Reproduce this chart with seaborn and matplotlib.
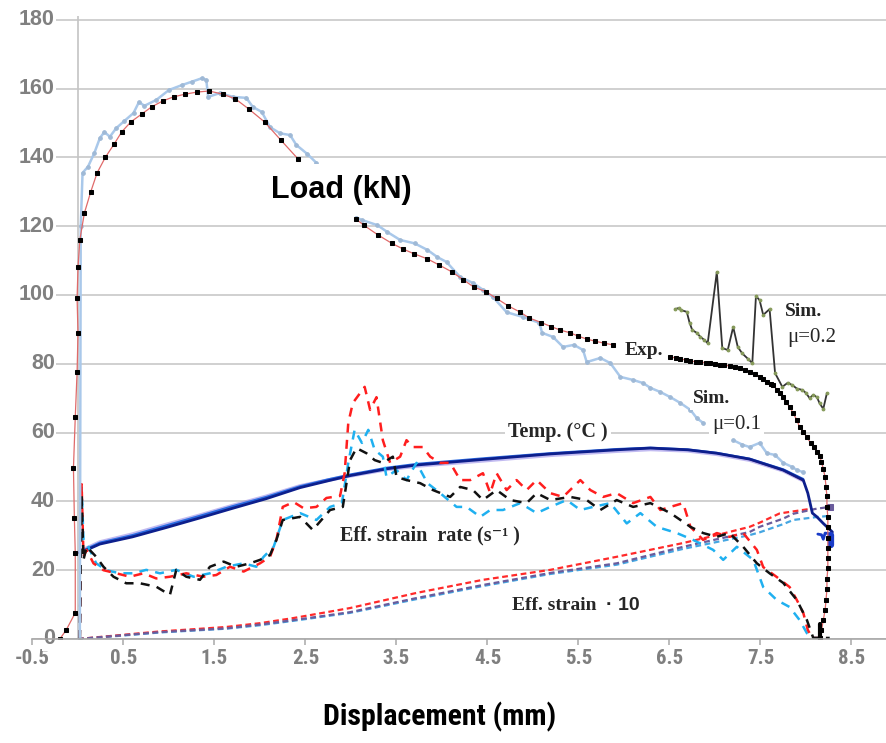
import matplotlib
matplotlib.use("Agg")
import matplotlib.pyplot as plt
import numpy as np
import pandas as pd
import seaborn as sns
from matplotlib import font_manager
from matplotlib.font_manager import FontProperties

# ---------------- data (displacement in mm) ----------------
# Experimental load (kN), three visible stretches
exp_x_a = [-0.45, -0.20, -0.13, -0.03, -0.03, -0.04, -0.05, -0.03, -0.01, 0.00, -0.01, 0.00, 0.02, 0.07,
           0.14, 0.21, 0.30, 0.40, 0.48, 0.58, 0.70, 0.81, 0.93, 1.05, 1.18, 1.31, 1.44, 1.59, 1.73, 1.88,
           2.05, 2.23, 2.42]
exp_y_a = [0.0, 0.0, 2.6, 7.6, 25.0, 35.2, 49.7, 64.5, 77.6, 89.0, 99.0, 108.0, 116.0, 123.8,
           130.0, 135.5, 140.0, 144.0, 147.4, 150.3, 152.6, 154.7, 156.4, 157.6, 158.4, 159.0, 159.3, 158.4,
           157.0, 154.0, 150.3, 145.0, 139.5]
exp_x_b = [3.06, 3.14, 3.30, 3.45, 3.57, 3.69, 3.84, 3.97, 4.11, 4.23, 4.35, 4.48, 4.60, 4.73, 4.86, 4.96,
           5.09, 5.20, 5.30, 5.41, 5.50, 5.59, 5.68, 5.78, 5.88]
exp_y_b = [122.0, 120.3, 117.4, 115.0, 113.4, 112.0, 110.5, 108.7, 106.7, 104.5, 102.3, 101.0, 99.0, 96.8,
           95.0, 93.3, 92.0, 90.8, 89.8, 89.0, 88.0, 87.2, 86.6, 86.0, 85.5]
exp_x_c = [6.51, 6.57, 6.62, 6.68, 6.73, 6.79, 6.84, 6.90, 6.95, 7.00, 7.05, 7.10, 7.16, 7.22, 7.27, 7.33,
           7.38, 7.44, 7.49, 7.53, 7.57, 7.61, 7.64, 7.68, 7.71, 7.75, 7.78, 7.82, 7.86, 7.90, 7.93, 7.97,
           8.01, 8.05, 8.09, 8.12, 8.15, 8.17, 8.19, 8.21, 8.22, 8.23, 8.23, 8.24, 8.24, 8.24, 8.24, 8.24,
           8.24, 8.23, 8.23, 8.22, 8.21, 8.19, 8.17, 8.15]
exp_y_c = [82.0, 81.7, 81.4, 81.1, 80.8, 80.6, 80.5, 80.3, 80.2, 80.0, 79.7, 79.6, 79.4, 79.1, 78.8, 78.3,
           77.6, 77.0, 76.2, 75.5, 74.7, 74.2, 73.8, 72.5, 71.5, 70.3, 68.8, 67.5, 65.6, 63.6, 61.6, 60.2,
           58.7, 57.0, 55.8, 54.5, 53.2, 51.5, 49.5, 47.0, 44.2, 41.5, 38.5, 35.5, 32.5, 29.5, 26.5, 23.5,
           20.5, 17.5, 14.5, 11.3, 8.5, 5.5, 2.5, 0.4]

# Simulated load, friction 0.1 (kN)
sim1_x_a = [0.02, 0.03, 0.05, 0.11, 0.18, 0.24, 0.29, 0.35, 0.42, 0.51, 0.61, 0.67, 0.73, 0.86, 1.00, 1.14,
            1.25, 1.36, 1.41, 1.43, 1.56, 1.70, 1.85, 1.92, 2.02, 2.11, 2.22, 2.33, 2.40, 2.52, 2.62]
sim1_y_a = [0.0, 120.0, 135.5, 137.3, 141.3, 145.6, 147.4, 146.0, 148.5, 150.6, 152.9, 156.1, 155.0, 156.7,
            159.6, 161.0, 162.0, 163.0, 162.5, 157.6, 158.7, 157.6, 157.3, 154.7, 153.2, 148.8, 147.0,
            146.5, 143.6, 141.0, 138.4]
sim1_x_b = [3.06, 3.12, 3.29, 3.40, 3.54, 3.70, 3.84, 3.95, 4.05, 4.20, 4.34, 4.45, 4.56, 4.71, 4.89, 5.07,
            5.10, 5.22, 5.33, 5.45, 5.55, 5.59, 5.74, 5.85, 5.96, 6.10, 6.21, 6.29, 6.40, 6.51, 6.62, 6.73,
            6.80, 6.87]
sim1_y_b = [122.5, 121.8, 120.3, 118.3, 116.0, 115.0, 113.1, 111.0, 109.6, 105.2, 103.5, 101.5, 99.4, 95.0,
            93.6, 91.9, 89.0, 87.8, 84.9, 85.5, 84.0, 80.5, 81.7, 80.2, 76.2, 75.3, 74.4, 73.0, 71.8, 70.3,
            68.6, 66.6, 64.2, 62.8]
sim1_x_c = [7.20, 7.30, 7.38, 7.49, 7.57, 7.66, 7.75, 7.85, 7.90, 7.97]
sim1_y_c = [57.8, 56.5, 55.8, 57.0, 54.0, 53.5, 51.2, 50.0, 49.1, 48.5]

# Simulated load, friction 0.2 (kN)
sim2_x = [6.56, 6.60, 6.63, 6.69, 6.72, 6.75, 6.80, 6.84, 6.88, 6.92, 7.02, 7.08, 7.14, 7.20, 7.25, 7.30,
          7.36, 7.41, 7.45, 7.49, 7.53, 7.60, 7.66, 7.74, 7.80, 7.85, 7.90, 7.96, 8.00, 8.04, 8.08, 8.12,
          8.15, 8.19, 8.23]
sim2_y = [95.9, 96.2, 95.6, 95.1, 92.0, 89.8, 89.0, 87.8, 87.0, 86.0, 106.7, 84.6, 84.0, 90.7, 84.9, 83.0,
          81.5, 80.2, 99.7, 98.5, 94.2, 95.9, 77.3, 73.3, 74.5, 73.8, 72.8, 72.4, 71.5, 70.0, 71.0, 70.3,
          68.5, 66.9, 71.5]

# Temperature (deg C)
temp_x = [0.02, 0.24, 0.60, 0.97, 1.34, 1.70, 2.07, 2.44, 2.75, 2.99, 3.40, 3.73, 4.45, 5.19, 5.92, 6.29,
          6.70, 7.02, 7.38, 7.75, 7.97, 8.02, 8.07, 8.12, 8.19, 8.29]
temp_navy = [25.0, 27.6, 29.7, 32.4, 35.2, 38.0, 40.8, 44.0, 46.0, 47.5, 49.5, 50.6, 52.2, 53.8, 55.0, 55.5,
             55.0, 54.0, 52.3, 49.1, 46.2, 42.4, 36.6, 35.5, 33.6, 31.1]
temp_x2 = [0.02, 0.24, 0.60, 0.97, 1.34, 1.70, 2.07, 2.44, 2.75, 2.99, 3.40, 3.73, 4.45, 5.19, 5.92, 6.29,
           6.70, 7.02, 7.38, 7.75, 7.97]
temp_blue = [25.3, 28.0, 30.2, 33.0, 35.8, 38.6, 41.3, 44.4, 46.4, 47.8, 49.8, 50.9, 52.5, 54.0, 55.2, 55.6,
             55.1, 54.1, 52.4, 49.3, 46.5]
temp_red = [25.0, 27.7, 29.9, 32.8, 35.6, 38.3, 41.0, 44.2, 46.2, 47.6, 49.6, 50.7, 52.3, 53.9, 55.1, 55.5,
            55.0, 54.0, 52.2, 49.0, 46.0]
temp_purple = [25.5, 28.2, 30.5, 33.3, 36.0, 38.8, 41.5, 44.5, 46.2, 47.4, 49.3, 50.3, 51.8, 53.4, 54.6,
               55.1, 54.7, 53.7, 52.0, 48.9, 46.0]
temp_tail_x = [8.13, 8.17, 8.19, 8.21, 8.28]
temp_tail_y = [30.5, 30.3, 29.0, 30.8, 30.5]

# Effective strain rate (1/s)
rate_red_x = [0.02, 0.04, 0.06, 0.095, 0.17, 0.28, 0.42, 0.57, 0.72, 0.86, 1.01, 1.19, 1.38, 1.52, 1.67,
              1.82, 2.00, 2.11, 2.18, 2.25, 2.37, 2.48, 2.62, 2.73, 2.88, 2.93, 2.97, 3.02, 3.15, 3.21,
              3.28, 3.35, 3.43, 3.54, 3.61, 3.68, 3.79, 3.87, 3.98, 4.09, 4.20, 4.31, 4.45, 4.53, 4.60,
              4.71, 4.82, 4.93, 5.04, 5.19, 5.33, 5.52, 5.63, 5.77, 5.92, 6.10, 6.29, 6.40, 6.51, 6.65,
              6.73, 6.87, 7.02, 7.16, 7.31, 7.46, 7.53, 7.68, 7.82, 7.90, 7.97, 8.02, 8.07, 8.26]
rate_red = [0.0, 45.0, 24.0, 25.9, 22.0, 20.0, 19.1, 18.1, 19.1, 17.6, 18.1, 19.1, 18.1, 18.6, 21.0,
            19.6, 22.0, 23.9, 28.8, 38.4, 39.8, 38.0, 38.4, 41.0, 41.6, 48.2, 62.8, 68.6, 73.3, 66.6,
            70.3, 57.8, 51.2, 53.0, 57.8, 55.8, 55.8, 53.0, 51.2, 51.2, 46.2, 46.2, 48.2, 42.4, 48.2,
            43.3, 46.2, 43.3, 46.2, 42.4, 41.3, 46.2, 43.3, 41.3, 42.4, 39.5, 41.3, 37.5, 38.4, 39.5,
            32.6, 28.8, 30.8, 29.7, 30.8, 25.9, 20.9, 18.0, 15.1, 11.3, 7.6, 2.6, 0.3, 0.3]
rate_cyan_x = [0.02, 0.04, 0.06, 0.095, 0.20, 0.31, 0.46, 0.61, 0.75, 0.90, 1.08, 1.27, 1.45, 1.63, 1.82,
               1.96, 2.04, 2.15, 2.25, 2.44, 2.62, 2.77, 2.90, 2.97, 3.04, 3.12, 3.19, 3.26, 3.35, 3.39,
               3.50, 3.61, 3.72, 3.84, 3.98, 4.16, 4.27, 4.42, 4.53, 4.67, 4.86, 5.04, 5.19, 5.37, 5.52,
               5.66, 5.85, 6.03, 6.18, 6.36, 6.58, 6.76, 6.98, 7.09, 7.24, 7.42, 7.53, 7.68, 7.82, 7.93,
               8.01, 8.07, 8.26]
rate_cyan = [0.0, 44.0, 29.0, 27.8, 22.0, 20.0, 19.1, 19.1, 20.1, 19.1, 20.1, 18.1, 19.1, 21.0, 22.0,
             21.0, 23.9, 26.8, 34.6, 36.6, 34.6, 38.4, 39.5, 51.2, 60.8, 57.0, 60.8, 55.0, 53.0, 47.1,
             49.1, 46.2, 51.2, 45.3, 42.4, 38.4, 38.4, 35.5, 37.5, 37.5, 39.5, 36.6, 38.4, 40.4, 37.5,
             38.4, 39.5, 33.6, 36.6, 32.6, 30.8, 28.8, 25.9, 23.0, 26.8, 23.0, 15.1, 11.3, 9.3, 5.5,
             1.7, 0.3, 0.3]
rate_black_x = [0.02, 0.04, 0.06, 0.095, 0.20, 0.28, 0.39, 0.53, 0.68, 0.86, 1.01, 1.08, 1.19, 1.34, 1.45,
                1.60, 1.74, 1.89, 2.00, 2.11, 2.18, 2.25, 2.44, 2.58, 2.77, 2.91, 2.99, 3.06, 3.17, 3.26,
                3.35, 3.46, 3.50, 3.61, 3.76, 3.90, 4.09, 4.20, 4.34, 4.45, 4.60, 4.75, 4.93, 5.04, 5.19,
                5.41, 5.59, 5.74, 5.92, 6.10, 6.29, 6.51, 6.73, 6.87, 7.02, 7.16, 7.31, 7.46, 7.60, 7.75,
                7.90, 8.01, 8.08, 8.26]
rate_black = [0.0, 42.0, 23.0, 26.8, 23.9, 21.0, 18.1, 16.2, 16.2, 15.2, 12.8, 20.1, 18.1, 17.2, 21.0,
              22.5, 21.0, 22.0, 23.0, 24.4, 28.8, 34.6, 35.5, 31.7, 37.5, 38.4, 52.0, 55.5, 54.0, 52.0,
              51.2, 53.0, 47.1, 46.2, 45.3, 43.3, 41.3, 44.2, 43.3, 40.4, 43.3, 40.4, 39.5, 42.4, 40.4,
              41.3, 40.4, 37.5, 40.4, 38.4, 39.5, 36.6, 32.6, 30.8, 29.7, 30.8, 26.8, 22.0, 19.1, 16.3,
              11.3, 5.5, 0.3, 0.3]

# Effective strain x 10
strain_x = [0.00, 0.45, 0.90, 1.30, 1.63, 2.00, 2.37, 2.99, 3.72, 4.45, 5.19, 5.92, 6.65, 7.02, 7.38, 7.49,
            7.75, 7.86, 8.10, 8.26]
strain_purple = [0.0, 1.0, 2.0, 2.6, 3.1, 4.2, 5.5, 7.8, 11.9, 15.7, 19.2, 22.0, 26.8, 29.0, 31.1, 32.6,
                 35.0, 36.4, 37.8, 38.4]
strain_cyan = [0.0, 0.9, 1.9, 2.5, 3.0, 4.0, 5.3, 7.6, 11.6, 15.4, 18.9, 21.6, 26.2, 28.2, 30.2, 31.0,
               33.4, 34.6, 35.4, 35.8]
strain_red_x = [0.00, 0.45, 0.90, 1.30, 1.63, 2.00, 2.37, 2.99, 3.72, 4.45, 5.19, 5.92, 6.65, 7.02, 7.38,
                7.49, 7.71, 8.04]
strain_red = [0.0, 1.1, 2.2, 2.9, 3.5, 4.6, 6.1, 9.0, 13.4, 17.2, 20.1, 23.9, 27.9, 30.2, 32.6, 33.8,
              36.5, 37.8]

# Axis ticks
x_ticks = [-0.5, 0.5, 1.5, 2.5, 3.5, 4.5, 5.5, 6.5, 7.5, 8.5]
x_tick_labels = ["-0.5", "0.5", "1.5", "2.5", "3.5", "4.5", "5.5", "6.5", "7.5", "8.5"]
y_ticks = [0, 20, 40, 60, 80, 100, 120, 140, 160, 180]

# ---------------- styling ----------------
sns.set_theme(style="white")
plt.rcParams["font.family"] = ["Liberation Sans", "DejaVu Sans"]
plt.rcParams["axes.unicode_minus"] = False
SERIF = ["Liberation Serif", "DejaVu Serif"]


def narrow_bold_font():
    """Return the file of a condensed bold sans face, if one is installed."""
    prefs = ["liberation sans narrow", "arial narrow", "roboto condensed", "open sans condensed",
             "noto sans condensed", "dejavu sans condensed", "noto sans", "open sans", "dejavu sans"]
    found = []
    for f in font_manager.fontManager.ttflist:
        name = f.name.lower()
        fname = f.fname.lower()
        condensed = ("narrow" in name or "condensed" in name or "condensed" in fname
                     or "narrow" in fname or str(f.stretch) in ("condensed", "semi-condensed"))
        bold = (f.weight in (600, 700, "bold", "semibold", "demibold")
                or "bold" in fname) and "italic" not in fname and "oblique" not in fname
        if condensed and bold and "extra" not in fname and "semicondensedbold" not in fname.replace("-", ""):
            rank = next((i for i, p in enumerate(prefs) if name.startswith(p)), len(prefs))
            found.append((rank, "semi" in fname, f.fname))
    if not found:
        return None
    found.sort()
    return found[0][2]


narrow_file = narrow_bold_font()


def narrow_props(size):
    if narrow_file:
        return FontProperties(fname=narrow_file, size=size)
    return FontProperties(family="Liberation Sans", weight="bold", size=size)


fig = plt.figure(figsize=(8.87, 7.43), dpi=100)
X0, X1, Y0, Y1 = -0.5, 8.9, 0.0, 181.0
px_per_x, px_per_y = 91.0, 3.44
ax = fig.add_axes([32.5 / 887, 104 / 743, (X1 - X0) * px_per_x / 887, (Y1 - Y0) * px_per_y / 743])
ax.set_xlim(X0, X1)
ax.set_ylim(Y0, Y1)


def series(xs, ys, seg=0):
    return pd.DataFrame({"x": xs, "y": ys, "seg": [seg] * len(xs)})


def draw(df, **kw):
    sns.lineplot(data=df, x="x", y="y", units="seg", estimator=None, sort=False,
                 legend=False, ax=ax, **kw)


# grid and the vertical axis at zero displacement
ax.set_yticks(y_ticks)
ax.yaxis.grid(True, color="#c8c8c8", lw=1.2)
ax.xaxis.grid(False)
ax.set_axisbelow(True)
ax.axvline(0, color="#c4c4c4", lw=1.2, zorder=0.6)

# effective strain x 10
strain_dash = (0, (2.6, 1.6))
draw(series(strain_x, strain_cyan), color="#45a6e2", lw=1.6, linestyle=strain_dash, zorder=2.0)
draw(series(strain_x, strain_purple), color="#6a5c9c", lw=1.6, linestyle=strain_dash, zorder=2.05,
     marker="s", markevery=[len(strain_x) - 1], ms=4, mec="#6a5c9c")
draw(series(strain_red_x, strain_red), color="#ff2a2a", lw=1.6, linestyle=strain_dash, zorder=2.02)

# temperature
draw(series(temp_x2, temp_purple), color="#9a8ee8", lw=2.6, zorder=2.1, alpha=0.6)
draw(series(temp_x2, temp_red), color="#e03030", lw=1.1, zorder=2.12)
draw(series(temp_x2, temp_blue), color="#2a6ae0", lw=1.6, zorder=2.14)
draw(series(temp_x, temp_navy), color="#0d1f8c", lw=2.0, zorder=2.16)
draw(series(temp_tail_x, temp_tail_y), color="#1a3cc8", lw=2.0, zorder=2.16)
draw(series([8.27, 8.27], [27.2, 30.2]), color="#1a3cc8", lw=4.5, zorder=2.16)

# effective strain rate
rate_dash = (0, (3.6, 2.9))
draw(series(rate_cyan_x, rate_cyan), color="#1fb0f0", lw=1.8, linestyle=rate_dash, zorder=2.2)
draw(series(rate_red_x, rate_red), color="#ff1e1e", lw=1.8, linestyle=rate_dash, zorder=2.22)
draw(series(rate_black_x, rate_black), color="#111111", lw=1.8, linestyle=rate_dash, zorder=2.24)

# simulated loads
sim1 = pd.concat([series(sim1_x_a, sim1_y_a, 0), series(sim1_x_b, sim1_y_b, 1),
                  series(sim1_x_c, sim1_y_c, 2)])
draw(sim1, color="#a9c8ea", lw=1.8, marker="o", ms=2.6, mfc="#9fb9d6", mec="#9fb9d6", zorder=2.3)
draw(series(sim2_x, sim2_y), color="#333333", lw=1.3, marker="o", ms=2.0, mfc="#869a5a",
     mec="#869a5a", zorder=2.35)

# experimental load
draw(series(exp_x_a[:2], exp_y_a[:2], 9), color="#e06a6a", lw=0.9, zorder=2.4)
exp = pd.concat([series(exp_x_a[1:], exp_y_a[1:], 0), series(exp_x_b, exp_y_b, 1),
                 series(exp_x_c, exp_y_c, 2)])
draw(exp, color="#e06a6a", lw=0.9, marker="s", ms=3.2, mfc="black", mec="black", zorder=2.4)
draw(series([8.15, 8.15], [0.0, 4.5]), color="black", lw=3.0, zorder=2.4)

# axes frame and ticks
for side in ("left", "right", "top"):
    ax.spines[side].set_visible(False)
ax.spines["bottom"].set_color("#a8a8a8")
ax.spines["bottom"].set_linewidth(1.2)
ax.set_xticks(x_ticks)
ax.set_xticklabels(x_tick_labels, fontproperties=narrow_props(15), color="#7f7f7f")
ax.tick_params(axis="x", direction="out", length=4, width=1.1, color="#a8a8a8", pad=3, bottom=True)
ax.tick_params(axis="y", length=0, labelleft=False)
ax.set_xlabel("")
ax.set_ylabel("")

# value labels of the load axis
lab_x = (55 - 32.5) / ((X1 - X0) * px_per_x)
for v in y_ticks:
    ax.text(lab_x, v, str(v), transform=ax.get_yaxis_transform(), ha="right", va="center",
            fontsize=15.5, fontweight="bold", color="#808080", zorder=1.5,
            bbox=dict(boxstyle="square,pad=0.05", fc="white", ec="none"))

fig.text(440 / 887, (743 - 717) / 743, "Displacement (mm)", ha="center", va="center",
         fontproperties=narrow_props(21.5), color="black")

# curve annotations
white = dict(boxstyle="square,pad=0.15", fc="white", ec="none")
ax.text(2.89, 130.5, "Load (kN)", ha="center", va="center", fontsize=22, fontweight="bold",
        color="black", zorder=5, bbox=dict(boxstyle="square,pad=0.35", fc="white", ec="none"))
ax.text(6.22, 84.0, "Exp.", ha="center", va="center", family=SERIF, fontsize=14, fontweight="bold",
        zorder=5, bbox=white)
ax.text(7.77, 95.3, "Sim.", ha="left", va="center", family=SERIF, fontsize=14, fontweight="bold", zorder=5)
ax.text(7.79, 87.6, "\u03bc=0.2", ha="left", va="center", family=SERIF, fontsize=15, zorder=5)
ax.text(6.76, 70.0, "Sim.", ha="left", va="center", family=SERIF, fontsize=14, fontweight="bold",
        zorder=5, bbox=white)
ax.text(6.97, 62.3, "\u03bc=0.1", ha="left", va="center", family=SERIF, fontsize=15, zorder=5, bbox=white)
ax.text(4.73, 60.2, "Temp. (\u00b0C )", ha="left", va="center", family=SERIF, fontsize=14.5,
        fontweight="bold", zorder=5, bbox=white)
ax.text(2.88, 30.2, "Eff. strain  rate (s\u207b\u00b9 )", ha="left", va="center", family=SERIF,
        fontsize=14.5, fontweight="bold", zorder=5)
ax.text(4.77, 9.6, "Eff. strain", ha="left", va="center", family=SERIF, fontsize=14, fontweight="bold",
        zorder=5)
ax.text(5.80, 9.6, "\u00b7 10", ha="left", va="center", fontsize=14, fontweight="bold", zorder=5)

fig.savefig("out.png", dpi=100)
